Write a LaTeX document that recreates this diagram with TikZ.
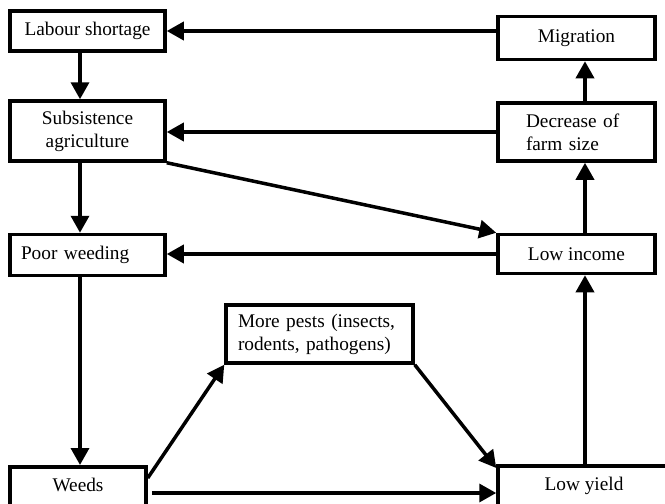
\documentclass[tikz,border=0pt]{standalone}
\usepackage{fontspec}
\setmainfont{Liberation Serif}
\usetikzlibrary{arrows.meta}
\begin{document}
\begin{tikzpicture}[x=1pt,y=-1pt,
  box/.style={draw, line width=3.5pt, rectangle, inner sep=0pt, font=\fontsize{19.3}{23}\selectfont},
  arr/.style={line width=3.5pt, -{Triangle[length=17pt,width=18pt]}}]
\useasboundingbox (0,0) rectangle (665,504);
\clip (0,0) rectangle (665,504);
\fill[white] (0,0) rectangle (665,504);
% left column
\node[box, minimum width=155pt, minimum height=40pt] (lab) at (87.5,31) {Labour shortage};
\node[box, minimum width=155pt, minimum height=60pt, align=center] (sub) at (87.5,131) {Subsistence\\agriculture};
\node[box, minimum width=155pt, minimum height=41pt, inner xsep=11pt, text width=133pt, align=left] (poor) at (87.5,255) {Poor weeding};
\node[box, minimum width=136pt, anchor=north, inner ysep=6pt, text height=19pt, text depth=45pt] (weeds) at (78,465) {Weeds};
% right column
\node[box, minimum width=157pt, minimum height=43pt] (mig) at (576.5,38) {Migration};
\node[box, minimum width=157pt, minimum height=58pt, inner xsep=28pt, text width=101pt, align=left] (dec) at (576.5,132) {Decrease of\\farm size};
\node[box, minimum width=157pt, minimum height=39pt] (inc) at (576.5,254) {Low income};
\node[box, minimum width=172pt, anchor=north, inner ysep=6pt, text height=19pt, text depth=45pt] (yield) at (584,464) {Low yield};
% middle
\node[box, minimum width=187pt, minimum height=58pt, inner xsep=12pt, text width=163pt, align=left] (pests) at (319.5,334) {More pests (insects,\\rodents, pathogens)};
% guide coordinates
\coordinate (lx) at (80,0);
\coordinate (rx) at (585,0);
% connectors
\draw[arr] (mig.west |- lab.east) -- (lab.east);
\draw[arr] (lx |- lab.south) -- (lx |- sub.north);
\draw[arr] (dec.west) -- (dec.west -| sub.east);
\draw[arr] (lx |- sub.south) -- (lx |- poor.north);
\draw[arr] (sub.south east) -- (inc.north west);
\draw[arr] (inc.west) -- (inc.west -| poor.east);
\draw[arr] (lx |- poor.south) -- (lx |- weeds.north);
\draw[arr] ([yshift=-13pt]weeds.north east) -- (pests.south west);
\draw[arr] (pests.south east) -- ([yshift=-4pt]yield.north west);
\draw[arr] ([xshift=4pt,yshift=-28pt]weeds.north east) -- ([yshift=-29pt]yield.north west);
\draw[arr] (rx |- yield.north) -- (rx |- inc.south);
\draw[arr] (rx |- inc.north) -- (rx |- dec.south);
\draw[arr] (rx |- dec.north) -- (rx |- mig.south);
\end{tikzpicture}
\end{document}
